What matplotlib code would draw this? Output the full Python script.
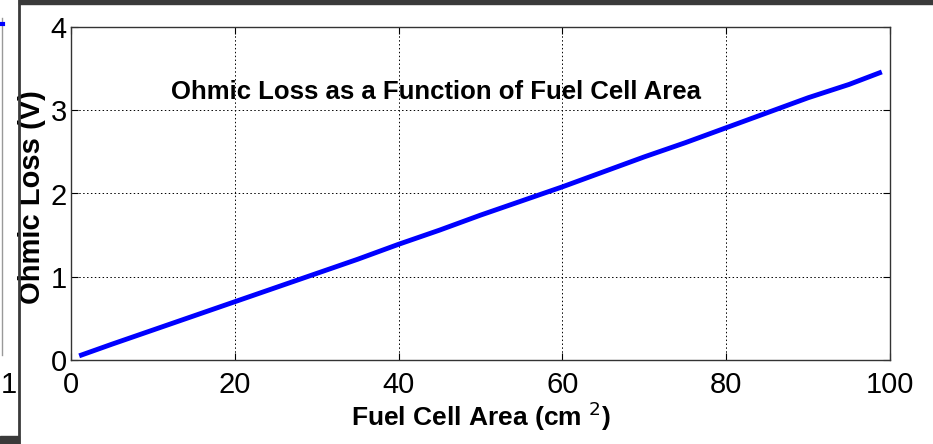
import numpy as np
import matplotlib.pyplot as plt
from matplotlib import font_manager
from matplotlib.lines import Line2D
from matplotlib.patches import Rectangle

# Data
area = [1, 5, 10, 15, 20, 25, 30, 35, 40, 45, 50, 55, 60, 65, 70, 75, 80, 85, 90, 95, 99]
ohmic_loss = [0.05, 0.19, 0.36, 0.53, 0.70, 0.87, 1.04, 1.21, 1.39, 1.56, 1.74,
              1.91, 2.08, 2.26, 2.44, 2.61, 2.79, 2.97, 3.15, 3.31, 3.46]
x_ticks = [0, 20, 40, 60, 80, 100]
y_ticks = [0, 1, 2, 3, 4]

names = {f.name for f in font_manager.fontManager.ttflist}
narrow = 'Liberation Sans Narrow' if 'Liberation Sans Narrow' in names else 'Liberation Sans'
plt.rcParams['font.family'] = [narrow, 'DejaVu Sans']

W, H = 933, 444
fig = plt.figure(figsize=(W / 100, H / 100), dpi=100)
ax = fig.add_axes([71 / W, 1 - 360 / H, (890 - 71) / W, (360 - 27) / H])

ax.plot(area, ohmic_loss, color='#0000ff', lw=3.5, solid_capstyle='butt')
ax.set_xlim(0, 100)
ax.set_ylim(0, 4)
ax.set_xticks(x_ticks)
ax.set_yticks(y_ticks)
ax.grid(True, color='black', linestyle=(0, (1.5, 2.5)), linewidth=0.7)
ax.tick_params(direction='in', length=5, labelsize=21, top=True, right=True)
ax.tick_params(axis='x', pad=8)
ax.tick_params(axis='y', pad=3)
for s in ax.spines.values():
    s.set_color('#333333')
    s.set_linewidth(1.0)

ax.set_xlabel('Fuel Cell Area (cm $^{2}$)', fontsize=19, fontweight='bold', labelpad=0)
ax.set_ylabel('Ohmic Loss (V)', fontsize=21, fontweight='bold')
ax.yaxis.set_label_coords(-0.031, 0.49)
ax.text(44.6, 3.22, 'Ohmic Loss as a Function of Fuel Cell Area', fontsize=18.5,
        fontweight='bold', ha='center', va='center')

# Window edges and a sliver of a neighbouring plot on the left
fig.patches.append(Rectangle((19 / W, 1 - 4 / H), 1, 4 / H, transform=fig.transFigure,
                             color='#3a3a3a', zorder=5))
fig.patches.append(Rectangle((0, 0), 19 / W, 8 / H, transform=fig.transFigure,
                             color='#3a3a3a', zorder=5))
fig.lines.append(Line2D([19 / W, 19 / W], [0, 1], transform=fig.transFigure,
                        color='#3a3a3a', lw=2))
fig.lines.append(Line2D([2 / W, 2 / W], [1 - 355 / H, 1 - 18 / H], transform=fig.transFigure,
                        color='#999999', lw=1))
fig.lines.append(Line2D([0, 3 / W], [1 - 24 / H, 1 - 24 / H], transform=fig.transFigure,
                        color='#0000ff', lw=3))
fig.text(1 / W, 1 - 385 / H, '1', fontsize=21, va='center', ha='left')

fig.savefig('out.png', dpi=100)
